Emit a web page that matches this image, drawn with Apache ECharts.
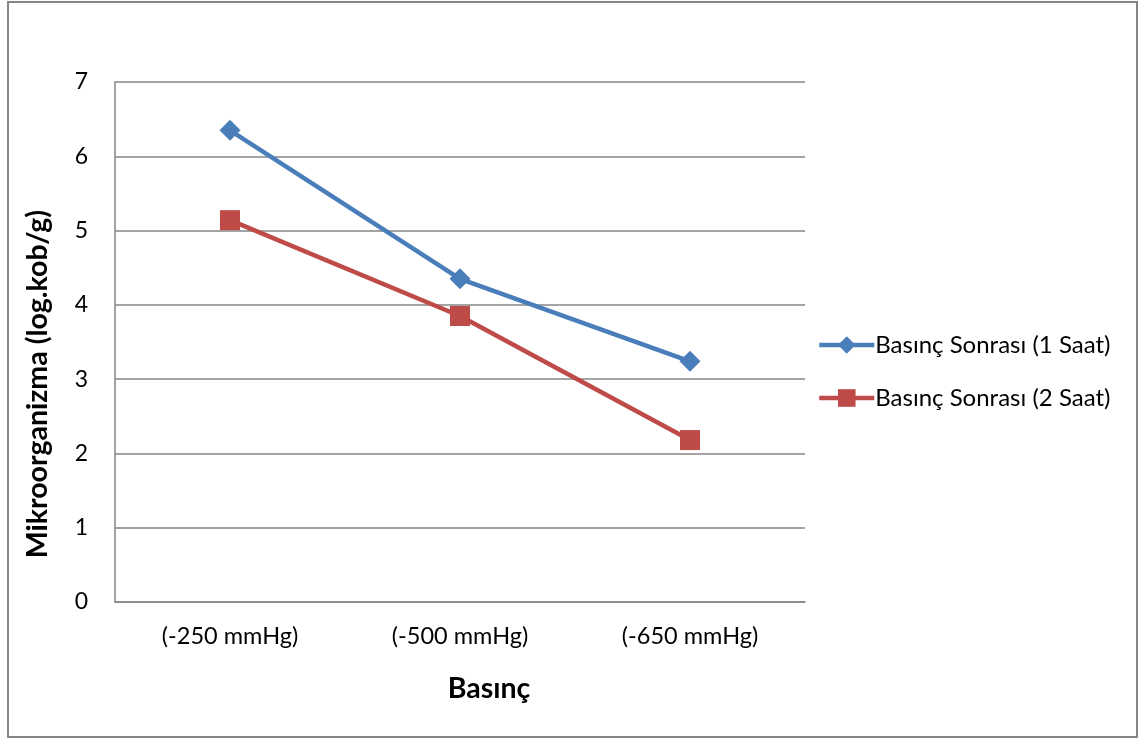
<!DOCTYPE html>
<html>
<head>
<meta charset="utf-8">
<script src="https://cdn.jsdelivr.net/npm/echarts@6/dist/echarts.min.js"></script>
<style>
  html, body { margin: 0; padding: 0; background: #fff; }
  #frame { position: absolute; left: 7px; top: 1px; width: 1131px; height: 737px; border: 2px solid #868686; box-sizing: border-box; }
  #chart { position: absolute; left: 0; top: 0; width: 1140px; height: 740px; }
</style>
</head>
<body>
<div id="frame"></div>
<div id="chart"></div>
<script>
// Pressure levels and microorganism counts (log cfu/g)
const categories = ['(-250 mmHg)', '(-500 mmHg)', '(-650 mmHg)'];
const after1h = [6.35, 4.35, 3.24];
const after2h = [5.14, 3.85, 2.18];
const seriesNames = ['Basınç Sonrası (1 Saat)', 'Basınç Sonrası (2 Saat)'];
const yTicks = { min: 0, max: 7, interval: 1 };
const xTitle = 'Basınç';
const yTitle = 'Mikroorganizma (log.kob/g)';

const FONT = 'Lato';
const BLUE = '#4a7ebb';
const RED = '#be4b48';
const titleStyle = { fontFamily: FONT, fontSize: 28.5, fontWeight: 'bold', fill: '#000', align: 'center', verticalAlign: 'middle' };

const chart = echarts.init(document.getElementById('chart'));
chart.setOption({
  animation: false,
  textStyle: { fontFamily: FONT, color: '#000' },
  grid: { left: 115, top: 82, right: 335, bottom: 138 },
  legend: {
    orient: 'vertical',
    left: 817,
    top: 333,
    padding: 0,
    itemWidth: 55,
    itemHeight: 22,
    itemGap: 29,
    lineStyle: { width: 4.5 },
    textStyle: { fontFamily: FONT, fontSize: 24, color: '#000', padding: [0, 0, 0, -4] },
    data: seriesNames
  },
  // axis titles sit off-centre from the plot, so they are placed as free text
  graphic: [
    { type: 'text', x: 38, y: 384, rotation: Math.PI / 2, style: Object.assign({ text: yTitle }, titleStyle) },
    { type: 'text', x: 489, y: 689, style: Object.assign({ text: xTitle }, titleStyle) }
  ],
  xAxis: {
    type: 'category',
    data: categories,
    boundaryGap: true,
    axisLine: { lineStyle: { color: '#868686', width: 1.5 } },
    axisTick: { show: false },
    axisLabel: { fontSize: 23.5, color: '#000', margin: 22 }
  },
  yAxis: {
    type: 'value',
    min: yTicks.min,
    max: yTicks.max,
    interval: yTicks.interval,
    axisLine: { show: true, lineStyle: { color: '#868686', width: 1.5 } },
    axisTick: { show: false },
    axisLabel: { fontSize: 23, color: '#000', margin: 27 },
    splitLine: { lineStyle: { color: '#868686', width: 1.5 } }
  },
  series: [
    {
      name: seriesNames[0],
      type: 'line',
      data: after1h,
      symbol: 'diamond',
      symbolSize: 21,
      lineStyle: { color: BLUE, width: 4.5 },
      itemStyle: { color: BLUE }
    },
    {
      name: seriesNames[1],
      type: 'line',
      data: after2h,
      symbol: 'rect',
      symbolSize: 20,
      lineStyle: { color: RED, width: 4.5 },
      itemStyle: { color: RED }
    }
  ]
});
</script>
</body>
</html>
